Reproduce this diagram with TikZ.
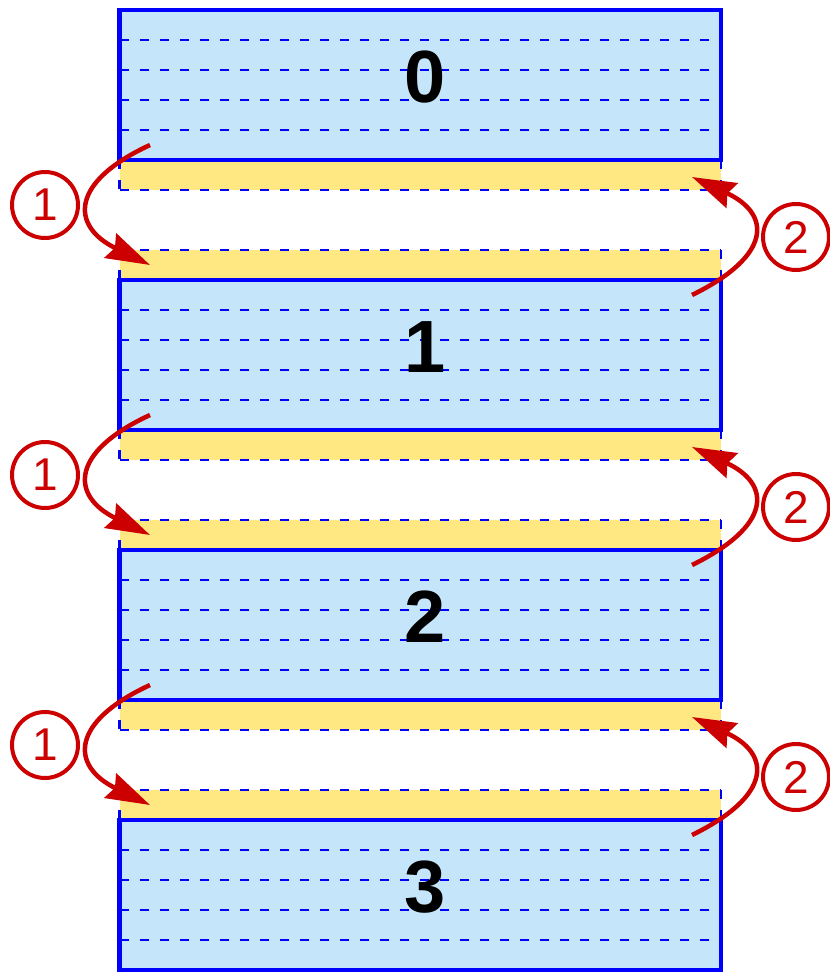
\documentclass[tikz,border=0pt]{standalone}
\usepackage{fontspec}
\setmainfont{Liberation Sans}
\usetikzlibrary{arrows.meta}
\definecolor{boxblue}{RGB}{0,0,255}
\definecolor{fillblue}{RGB}{197,230,250}
\definecolor{fillyellow}{RGB}{255,232,130}
\definecolor{arrred}{RGB}{204,0,0}
\begin{document}
\begin{tikzpicture}[x=1pt,y=-1pt,
  rowline/.style={boxblue, line width=2.2pt, dash pattern=on 9pt off 11pt},
  boxframe/.style={draw=boxblue, line width=4.6pt, rectangle, inner sep=0pt, minimum width=601.5pt, minimum height=150pt},
  numlabel/.style={font=\fontsize{74}{74}\selectfont\bfseries, text=black, inner sep=0pt},
  stepmark/.style={draw=arrred, line width=4pt, circle, minimum size=66pt, inner sep=0pt, text=arrred, font=\fontsize{46}{46}\selectfont},
  movearrow/.style={draw=arrred, line width=4.5pt, -{Stealth[length=44pt, width=27pt, inset=5pt]}}
]
\useasboundingbox (0,0) rectangle (829,973);
% fills
\foreach \k in {0,1,2,3}{
  \pgfmathsetmacro{\t}{10+270*\k}
  \fill[fillblue] (119.5,\t) rectangle (721,\t+150);
}
\foreach \k in {0,1,2}{
  \pgfmathsetmacro{\t}{160+270*\k}
  \fill[fillyellow] (119.5,\t) rectangle (721,\t+30);
  \fill[fillyellow] (119.5,\t+90) rectangle (721,\t+120);
  \draw[rowline] (119.5,\t+30) -- (721,\t+30);
  \draw[rowline] (119.5,\t+90) -- (721,\t+90);
  \draw[rowline] (119.5,\t) -- (119.5,\t+30);
  \draw[rowline] (721,\t) -- (721,\t+30);
  \draw[rowline] (119.5,\t+90) -- (119.5,\t+120);
  \draw[rowline] (721,\t+90) -- (721,\t+120);
}
\foreach \k in {0,1,2,3}{
  \foreach \j in {1,2,3,4}{
    \pgfmathsetmacro{\yy}{10+270*\k+30*\j}
    \draw[rowline] (119.5,\yy) -- (721,\yy);
  }
}
% box frames
\node[boxframe] (b0) at (420.25,85) {};
\node[boxframe] (b1) at (420.25,355) {};
\node[boxframe] (b2) at (420.25,625) {};
\node[boxframe] (b3) at (420.25,895) {};
% numbers
\node[numlabel] (n0) at (425,77) {0};
\node[numlabel] (n1) at (425,347) {1};
\node[numlabel] (n2) at (425,617) {2};
\node[numlabel] (n3) at (425,887) {3};
% circled step marks
\node[stepmark] (s1a) at (45,205) {1};
\node[stepmark] (s1b) at (45,475) {1};
\node[stepmark] (s1c) at (45,745) {1};
\node[stepmark] (s2a) at (796,237) {2};
\node[stepmark] (s2b) at (796,507) {2};
\node[stepmark] (s2c) at (796,777) {2};
% arrows
\foreach \k/\n in {0/a,1/b,2/c}{
  \pgfmathsetmacro{\o}{270*\k}
  \coordinate (p\n1) at (150,145+\o);
  \coordinate (q\n1) at (150,265+\o);
  \coordinate (p\n2) at (692,295+\o);
  \coordinate (q\n2) at (692,177+\o);
  \draw[movearrow] (p\n1) .. controls (70,182+\o) and (70,226+\o) .. (q\n1);
  \draw[movearrow] (p\n2) .. controls (772,256+\o) and (772,214+\o) .. (q\n2);
}
\end{tikzpicture}
\end{document}
